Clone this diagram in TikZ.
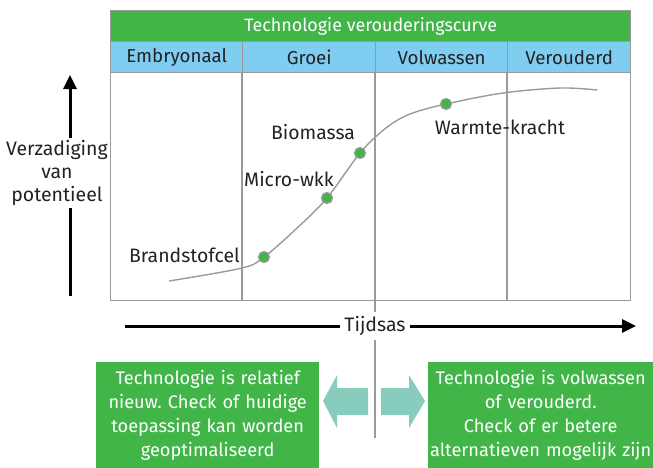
\documentclass[tikz,border=0pt]{standalone}
\usepackage{fontspec}
\setmainfont{Fira Sans}
\usetikzlibrary{arrows.meta}
\frenchspacing
\definecolor{tgreen}{HTML}{42B549}
\definecolor{tblue}{HTML}{80CDF2}
\definecolor{tteal}{HTML}{88CCBE}
\definecolor{tgray}{HTML}{9A9A9A}
\definecolor{ttext}{HTML}{222222}
\tikzset{
  gridline/.style={draw=tgray, line width=1.4pt},
  titlebar/.style={fill=tgreen, draw=tgray, line width=1.4pt, text=white, font=\fontsize{17.9}{20}\selectfont, inner sep=0pt, anchor=north west, minimum height=31pt},
  headcell/.style={fill=tblue, draw=tgray, line width=1.4pt, text=ttext, font=\fontsize{18.7}{20}\selectfont, inner sep=0pt, anchor=north west, minimum height=31pt},
  dot/.style={circle, fill=tgreen, draw=tgray, line width=1.2pt, minimum size=11pt, inner sep=0pt},
  curvelabel/.style={text=ttext, font=\fontsize{19.4}{20}\selectfont, inner sep=1pt},
  axislabel/.style={text=ttext, font=\fontsize{19.5}{23}\selectfont, fill=white, inner sep=2pt, align=center},
  axisarrow/.style={line width=3pt, -{Triangle[length=14pt,width=13pt]}},
  infobox/.style={fill=tgreen, text=white, font=\fontsize{18.2}{24}\selectfont, align=center, inner sep=0pt, anchor=north west, minimum height=106pt},
  bigarrow/.style={fill=tteal, draw=none}
}
\begin{document}
\begin{tikzpicture}[x=1pt,y=-1pt]
\useasboundingbox (0,0) rectangle (653,467);
% vertical centre line
\coordinate (vtop) at (375,41);
\coordinate (vbot) at (375,438);
\draw[gridline] (vtop) -- (vbot);
% chart area
\node[draw=tgray, line width=1.4pt, minimum width=520pt, minimum height=228pt, anchor=north west, inner sep=0pt] (chart) at (110,72) {};
\coordinate (d1t) at (242,41); \coordinate (d1b) at (242,300);
\coordinate (d3t) at (507,41); \coordinate (d3b) at (507,300);
\draw[gridline] (d1t) -- (d1b);
\draw[gridline] (d3t) -- (d3b);
% title and header
\node[titlebar, minimum width=520pt] (title) at (110,10) {Technologie verouderingscurve};
\node[headcell, minimum width=132pt] (h1) at (110,41) {Embryonaal};
\node[headcell, minimum width=133pt] (h2) at (242,41) {Groei};
\node[headcell, minimum width=132pt] (h3) at (375,41) {Volwassen};
\node[headcell, minimum width=123pt] (h4) at (507,41) {Verouderd};
% curve
\draw[draw=tgray, line width=1.4pt] plot[smooth, tension=0.55] coordinates {(169,281) (242,268) (264,257) (296,229) (327,198) (360,153) (386,128) (410,114) (446,104) (503,93) (560,88) (597,90)};
\node[dot] (p1) at (264,257) {};
\node[dot] (p2) at (327,198) {};
\node[dot] (p3) at (360,153) {};
\node[dot] (p4) at (446,104) {};
\node[curvelabel, anchor=east] (l1) at (241,255) {Brandstofcel};
\node[curvelabel] (l2) at (289,179) {Micro-wkk};
\node[curvelabel] (l3) at (313,132) {Biomassa};
\node[curvelabel] (l4) at (500,127) {Warmte-kracht};
% y axis
\coordinate (ya) at (70,296);
\coordinate (yb) at (70,75);
\draw[axisarrow] (ya) -- (yb);
\node[axislabel] (ylab) at (57,173) {Verzadiging\\van\\potentieel};
% x axis
\coordinate (xa) at (125,326);
\coordinate (xb) at (636,326);
\draw[axisarrow] (xa) -- (xb);
\node[axislabel, inner sep=4pt] (xlab) at (375,326) {Tijdsas};
% info boxes
\node[infobox, minimum width=223pt, text width=223pt] (bl) at (96,362) {Technologie is relatief\\nieuw. Check of huidige\\toepassing kan worden\\geoptimaliseerd};
\node[infobox, minimum width=225pt, text width=225pt] (br) at (428,362) {Technologie is volwassen\\of verouderd.\\Check of er betere\\alternatieven mogelijk zijn};
% big arrows
\fill[bigarrow] (323,401) -- (337,375) -- (337,388) -- (368,388) -- (368,415) -- (337,415) -- (337,428) -- cycle;
\fill[bigarrow] (425,401) -- (409,375) -- (409,388) -- (381,388) -- (381,415) -- (409,415) -- (409,428) -- cycle;
\end{tikzpicture}
\end{document}
